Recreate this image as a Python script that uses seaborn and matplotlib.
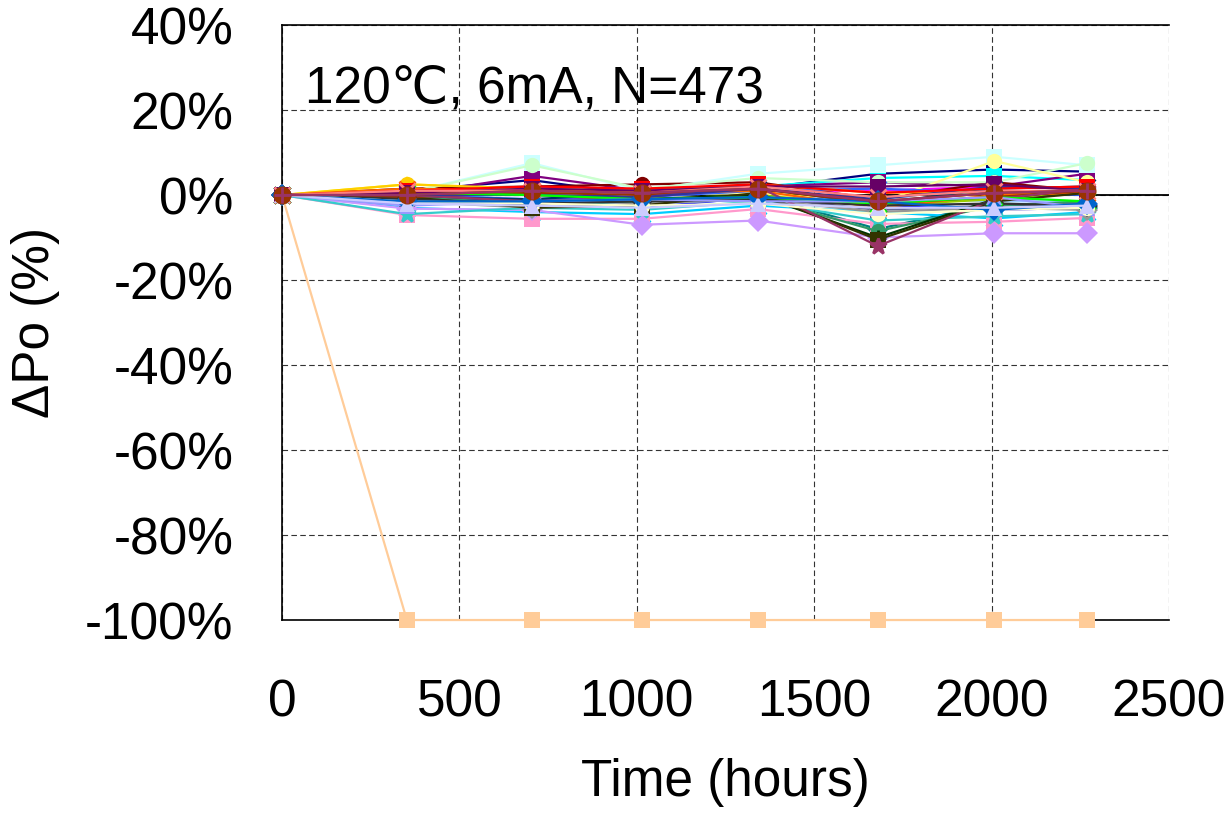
import matplotlib
matplotlib.use("Agg")
import matplotlib.pyplot as plt
from matplotlib.ticker import FuncFormatter, MultipleLocator
import seaborn as sns

# Test hours at each readout
hours = [0, 352, 704, 1014, 1341, 1679, 2008, 2268]

# Change in optical power (%) per tracked unit, with its colour and marker
s01 = [0, 1.0, 3.5, 0.0, 1.5, 5.0, 6.0, 5.5]
s02 = [0, 0.5, 1.0, 0.5, 1.0, 1.0, 2.0, 1.5]
s03 = [0, 2.5, 1.5, 0.5, 0.5, -1.5, 0.5, 0.5]
s04 = [0, -1.0, 0.5, 0.0, 2.0, 4.0, 4.5, 3.5]
s05 = [0, 0.0, 4.5, 1.0, 2.0, 3.0, 2.0, 5.0]
s06 = [0, 1.5, 2.0, 2.5, 3.0, -1.0, 3.0, 1.0]
s07 = [0, -1.5, -2.5, -1.5, 0.0, -8.0, -2.0, -3.0]
s08 = [0, -0.5, -1.5, -3.0, -0.5, -2.5, -3.5, -3.0]
s09 = [0, -3.0, -4.0, -4.5, -2.5, -4.0, -5.5, -4.0]
s10 = [0, 0.5, 7.5, 1.0, 5.0, 7.0, 9.0, 7.0]
s11 = [0, 0.5, 7.0, 1.5, 4.0, 3.0, 3.0, 7.5]
s12 = [0, 0.0, 0.5, 0.0, 0.5, -2.0, 8.0, 3.0]
s13 = [0, -2.0, -1.0, -2.0, -1.0, -0.5, -1.5, -1.5]
s14 = [0, -4.7, -5.6, -5.6, -3.3, -6.8, -6.3, -5.4]
s15 = [0, -3.2, -3.5, -7.0, -6.0, -10.0, -9.0, -9.0]
s16 = [0, -100, -100, -100, -100, -100, -100, -100]
s17 = [0, 0.0, -1.0, -0.5, 1.0, 1.5, 0.5, 0.0]
s18 = [0, -4.5, -3.0, -3.5, -1.5, -6.0, -5.0, -4.5]
s19 = [0, 0.5, 0.0, -1.0, 0.0, -2.5, -1.0, 1.0]
s20 = [0, 2.5, 1.5, 1.0, 2.5, 0.5, 1.0, 0.5]
s21 = [0, 1.0, 0.5, 1.5, 1.5, -1.5, 0.5, 0.5]
s22 = [0, 1.5, 1.0, 0.5, 1.0, -3.0, 0.0, 0.5]
s23 = [0, -1.0, -2.0, -1.0, -0.5, -3.5, -2.5, -2.0]
s24 = [0, -1.5, -3.0, -2.0, -1.0, -4.0, -3.0, -3.5]
s25 = [0, -0.5, -1.0, 0.5, 1.5, -2.0, 1.5, 2.0]
s26 = [0, -0.5, -2.0, -1.5, -0.5, -8.5, -2.5, -1.5]
s27 = [0, -1.0, -2.5, -1.0, 0.0, -10.0, -1.0, 1.5]
s28 = [0, -0.5, -3.0, -2.5, 0.5, -10.5, -1.5, 0.5]
s29 = [0, -0.5, 0.5, 0.0, 1.5, -2.0, -0.5, 1.0]
s30 = [0, 0.0, -1.5, -0.5, 2.0, -12.0, -1.0, 1.5]
s31 = [0, 0.0, 0.0, -0.5, 1.5, -1.0, 2.0, 1.5]
s32 = [0, -1.0, -2.0, -1.5, -1.0, -2.5, -2.0, -2.5]
s33 = [0, 1.0, 2.0, 1.5, 2.5, 0.5, 1.5, 2.0]
s34 = [0, 0.5, 0.0, -1.0, -0.5, -2.0, -0.5, -1.5]
s35 = [0, -2.5, -1.5, -1.0, -1.5, -1.5, -0.5, -3.0]
s36 = [0, -1.5, -2.0, -2.5, -2.0, -4.5, -3.5, -3.0]
s37 = [0, 0.5, 1.5, 1.0, 2.0, 2.0, 2.5, 1.0]
s38 = [0, 1.0, 1.0, 0.5, 2.0, -0.5, 1.0, 1.0]
s39 = [0, -1.5, -1.5, -1.0, -0.5, -1.5, -3.5, -2.0]
s40 = [0, -2.0, -2.5, -3.0, -2.0, -3.0, -3.0, -2.5]
s41 = [0, 0.0, 1.0, 0.5, 1.5, -1.5, 0.5, 1.0]
s42 = [0, 0.0, 1.0, 0.5, 1.5, -1.5, 0.5, 1.0]

series = [s01, s02, s03, s04, s05, s06, s07, s08, s09, s10, s11, s12, s13, s14,
          s15, s16, s17, s18, s19, s20, s21, s22, s23, s24, s25, s26, s27, s28,
          s29, s30, s31, s32, s33, s34, s35, s36, s37, s38, s39, s40, s41, s42]

colors = ["#000080", "#FF00FF", "#FFFF00", "#00FFFF", "#800080", "#800000",
          "#008080", "#0000FF", "#00CCFF", "#CCFFFF", "#CCFFCC", "#FFFF99",
          "#99CCFF", "#FF99CC", "#CC99FF", "#FFCC99", "#3366FF", "#33CCCC",
          "#99CC00", "#FFCC00", "#FF9900", "#FF6600", "#666699", "#969696",
          "#003366", "#339966", "#003300", "#333300", "#993300", "#993366",
          "#333399", "#333333", "#FF0000", "#00FF00", "#9999FF", "#FFFFCC",
          "#660066", "#FF8080", "#0066CC", "#CCCCFF", "#993300", "#993366"]

markers = ["s", "s", "^", "s", "s", "o", "D", "^", "x", "s", "o", "o",
           "+", "s", "D", "s", "x", "*", "o", "o", "^", "x", "s", "D",
           "x", "o", "+", "s", "o", "*", "^", "D", "s", "x", "^", "o",
           "s", "x", "D", "^", "o", "+"]

annotation = "120\u2103, 6mA, N=473"

sns.set_theme(style="white")
plt.rcParams["font.family"] = ["Liberation Sans", "DejaVu Sans"]

fig = plt.figure(figsize=(12.26, 8.17), dpi=100)
ax = fig.add_axes([0.2300, 0.2411, 0.7235, 0.7283])

for i, (vals, c, m) in enumerate(zip(series, colors, markers)):
    stroke = m in ("x", "+", "*")
    size = 12 if stroke else 11
    if i == len(series) - 2:
        size = 13
    sns.lineplot(x=hours, y=vals, color=c, marker=m, markersize=size,
                 markeredgecolor=c, markeredgewidth=2.0 if stroke else 0.0,
                 linewidth=1.6, ax=ax, legend=False, zorder=3, clip_on=False)

ax.axhline(0, color="black", linewidth=1.3, zorder=2)

ax.set_xlim(0, 2500)
ax.set_ylim(-100, 40)
ax.xaxis.set_major_locator(MultipleLocator(500))
ax.yaxis.set_major_locator(MultipleLocator(20))
ax.yaxis.set_major_formatter(FuncFormatter(lambda v, p: f"{v:.0f}%"))

ax.grid(True, color="#333333", linestyle=(0, (5, 3)), linewidth=0.8, zorder=1)
ax.set_axisbelow(True)

for side in ("left", "bottom", "top"):
    ax.spines[side].set_visible(True)
    ax.spines[side].set_color("black")
    ax.spines[side].set_linewidth(1.2)
ax.spines["right"].set_visible(False)

ax.tick_params(axis="x", length=0, pad=42, labelsize=37, colors="black")
ax.tick_params(axis="y", length=0, pad=35, labelsize=37, colors="black")

ax.set_xlabel("Time (hours)", fontsize=37, labelpad=22, color="black")
ax.set_ylabel("\u0394Po (%)", fontsize=37, labelpad=18, color="black")

ax.text(65, 21.7, annotation, fontsize=37, color="black", va="baseline",
        ha="left", zorder=5)

fig.savefig("out.png", dpi=100)
